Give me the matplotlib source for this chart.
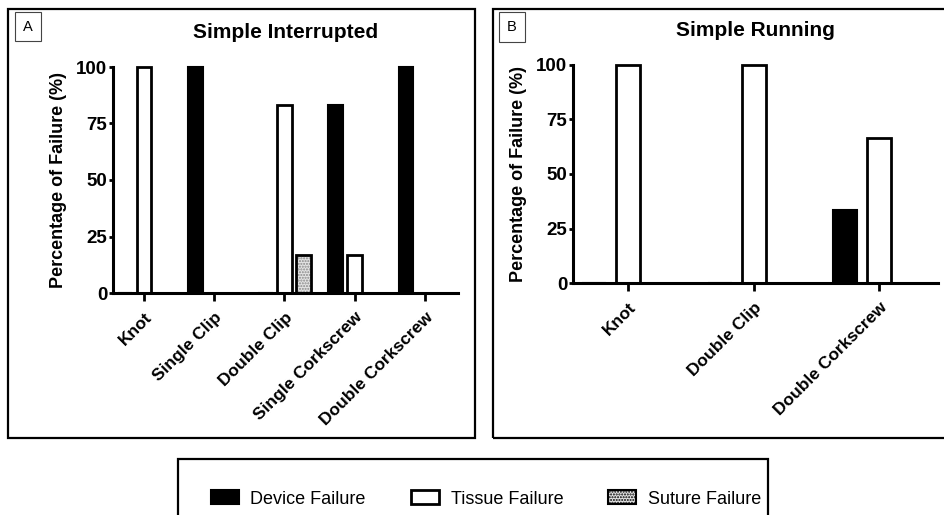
import matplotlib.pyplot as plt
from matplotlib.patches import Rectangle, Patch
import numpy as np

plt.rcParams['font.family'] = ['Liberation Sans', 'DejaVu Sans']

# panel A: simple interrupted
cats_a = ['Knot', 'Single Clip', 'Double Clip', 'Single Corkscrew', 'Double Corkscrew']
device_a = [0, 100, 0, 83.3, 100]
tissue_a = [100, 0, 83.3, 16.7, 0]
suture_a = [0, 0, 16.7, 0, 0]

# panel B: simple running
cats_b = ['Knot', 'Double Clip', 'Double Corkscrew']
device_b = [0, 0, 33.3]
tissue_b = [100, 100, 66.7]
suture_b = [0, 0, 0]

yticks = [0, 25, 50, 75, 100]

W, H = 944, 515
fig = plt.figure(figsize=(W / 100, H / 100), dpi=100)


def frac(x0, y0, x1, y1):
    # pixel box (top-left origin) -> figure fraction [left, bottom, width, height]
    return [x0 / W, 1 - y1 / H, (x1 - x0) / W, (y1 - y0) / H]


def draw_panel(ax, cats, dev, tis, sut, width, title):
    x = np.arange(len(cats))
    off = 0.27
    ax.bar(x - off, dev, width, color='black', edgecolor='black', lw=1.5, clip_on=False)
    ax.bar(x, tis, width, color='white', edgecolor='black', lw=2, clip_on=False)
    ax.bar(x + off, sut, width, color='#e4e4e4', edgecolor='#888888', hatch='......', lw=0)
    ax.bar(x + off, sut, width, fill=False, edgecolor='black', lw=2, clip_on=False)
    ax.set_xlim(-0.44, len(cats) - 1 + 0.47)
    ax.set_ylim(0, 100)
    ax.set_yticks(yticks)
    ax.set_xticks(x)
    ax.set_xticklabels(cats, rotation=45, ha='right', rotation_mode='anchor',
                       fontsize=12.5, fontweight='bold')
    ax.tick_params(axis='y', labelsize=13.5, width=2, length=3, pad=1)
    ax.tick_params(axis='x', width=2, length=6, pad=6)
    for lab in ax.get_yticklabels():
        lab.set_fontweight('bold')
    for s in ['top', 'right']:
        ax.spines[s].set_visible(False)
    for s in ['left', 'bottom']:
        ax.spines[s].set_linewidth(2.2)
    ax.set_ylabel('Percentage of Failure (%)', fontsize=13, fontweight='bold', labelpad=7)
    ax.set_title(title, fontsize=15, fontweight='bold', pad=21)


ax_a = fig.add_axes(frac(113, 67, 458, 293))
ax_b = fig.add_axes(frac(573, 65, 938, 283))
draw_panel(ax_a, cats_a, device_a, tissue_a, suture_a, 0.21, 'Simple Interrupted')
draw_panel(ax_b, cats_b, device_b, tissue_b, suture_b, 0.19, 'Simple Running')

# outer boxes
for (x0, y0, x1, y1) in [(8, 9, 475, 438), (493, 9, 946, 438), (178, 459, 768, 520)]:
    l, b, w, h = frac(x0, y0, x1, y1)
    fig.add_artist(Rectangle((l, b), w, h, transform=fig.transFigure, fill=False,
                             edgecolor='black', lw=1.6))

# panel letter boxes
for (x0, y0, x1, y1, s) in [(15, 12, 41, 41, 'A'), (499, 12, 525, 42, 'B')]:
    l, b, w, h = frac(x0, y0, x1, y1)
    fig.add_artist(Rectangle((l, b), w, h, transform=fig.transFigure, fill=False,
                             edgecolor='#444444', lw=0.8))
    fig.text(l + w / 2, b + h / 2, s, ha='center', va='center', fontsize=10.5)

# legend with a dotted patch for suture
leg_handles = [Patch(facecolor='black', edgecolor='black', lw=1.5),
               Patch(facecolor='white', edgecolor='black', lw=2),
               Patch(facecolor='#e4e4e4', edgecolor='black', hatch='......', lw=1.5)]
fig.legend(leg_handles, ['Device Failure', 'Tissue Failure', 'Suture Failure'],
           loc='center', bbox_to_anchor=(486 / W, 1 - 499 / H), ncol=3, frameon=False,
           fontsize=13, handlelength=1.55, handleheight=0.83, handletextpad=0.65,
           columnspacing=2.5)

fig.savefig('out.png', dpi=100)
